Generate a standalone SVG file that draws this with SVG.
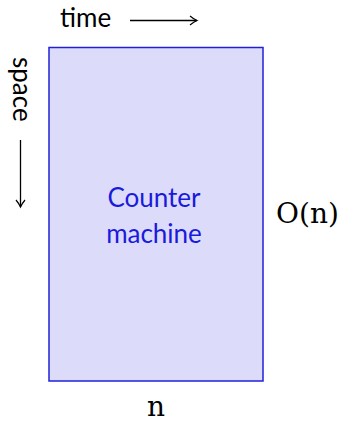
<svg xmlns="http://www.w3.org/2000/svg" width="343" height="423" viewBox="0 0 343 423">
<style>
text{font-family:Lato,"Open Sans","DejaVu Sans",sans-serif;font-size:26px;fill:#000}
.m{font-family:"DejaVu Serif","Liberation Serif",serif;font-size:28px}
.lbl{fill:#1a1adc;text-anchor:middle}
.ax{stroke:#000;stroke-width:1.3;fill:none}
</style>
<defs>
<marker id="ah" markerWidth="12" markerHeight="12" refX="9" refY="6" orient="auto" markerUnits="userSpaceOnUse">
<path d="M2,1.5 Q6,4.8 9,6 Q6,7.2 2,10.5" fill="none" stroke="#000" stroke-width="1.2"/>
</marker>
</defs>
<g id="connectors">
<line class="ax" x1="130" y1="20.5" x2="197" y2="20.5" marker-end="url(#ah)"/>
<line class="ax" x1="20.5" y1="140" x2="20.5" y2="207" marker-end="url(#ah)"/>
</g>
<g id="machine">
<rect x="49" y="47.5" width="214" height="333.5" fill="#dcdcfa" stroke="#2020d8" stroke-width="1.5"/>
<text class="lbl" x="154" y="207">Counter</text>
<text class="lbl" x="154" y="243">machine</text>
</g>
<g id="labels">
<text x="60" y="27">time</text>
<text transform="translate(13,57) rotate(90)">space</text>
<text class="m" x="276" y="223">O(n)</text>
<text class="m" x="156" y="416" text-anchor="middle">n</text>
</g>
</svg>
